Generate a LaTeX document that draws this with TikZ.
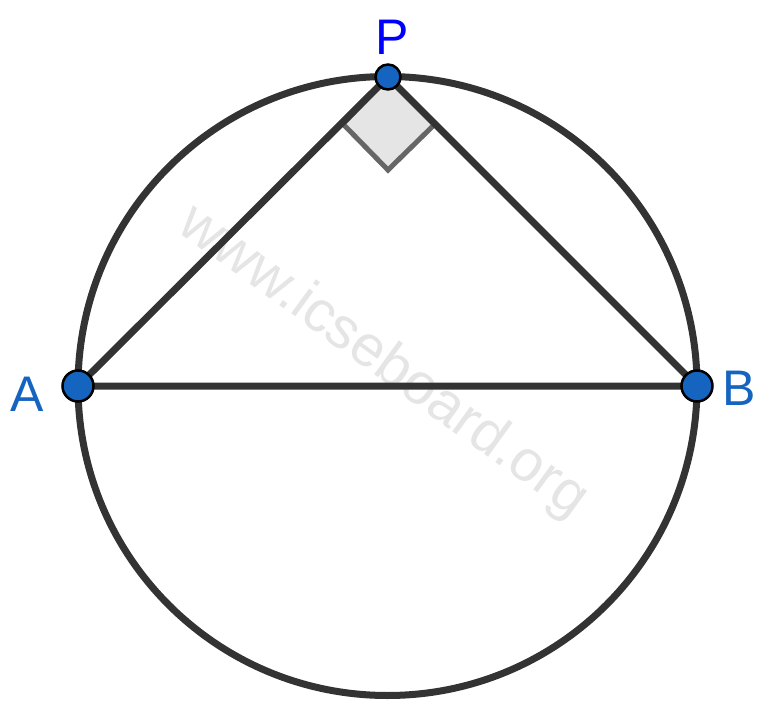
\documentclass[tikz,border=0pt]{standalone}
\usepackage{fontspec}
\setmainfont{Liberation Sans}
\begin{document}
\begin{tikzpicture}[x=1pt,y=-1pt,
  geo/.style={draw=black!80, line width=7pt},
  pt/.style={circle, fill=ptblue, draw=black, line width=2.5pt, minimum size=31pt, inner sep=0pt},
  lbl/.style={text=ptblue, font=\fontsize{50}{50}\selectfont},
  wm/.style={text=black!10, font=\fontsize{58}{58}\selectfont, rotate=-36}]
\definecolor{ptblue}{HTML}{1565C0}
\useasboundingbox (0,0) rectangle (764,717);
\node[wm] (wmark) at (383,362) {www.icseboard.org};
\coordinate (O) at (387.5,386);
\coordinate (Pc) at (388,77);
\coordinate (Ac) at (78,386);
\coordinate (Bc) at (697,386);
\coordinate (Q1) at (343,124);
\coordinate (Q2) at (388,170);
\coordinate (Q3) at (435,124);
\filldraw[fill=black!10, draw=black!60, line width=5pt] (Pc) -- (Q1) -- (Q2) -- (Q3) -- cycle;
\draw[geo] (O) circle (309.5);
\draw[geo] (Ac) -- (Pc) -- (Bc) -- cycle;
\node[pt, minimum size=25pt] (P) at (Pc) {};
\node[pt] (A) at (Ac) {};
\node[pt] (B) at (Bc) {};
\node[lbl, text=blue] (Pl) at (392,37) {P};
\node[lbl] (Al) at (27,394) {A};
\node[lbl] (Bl) at (739,388) {B};
\end{tikzpicture}
\end{document}
